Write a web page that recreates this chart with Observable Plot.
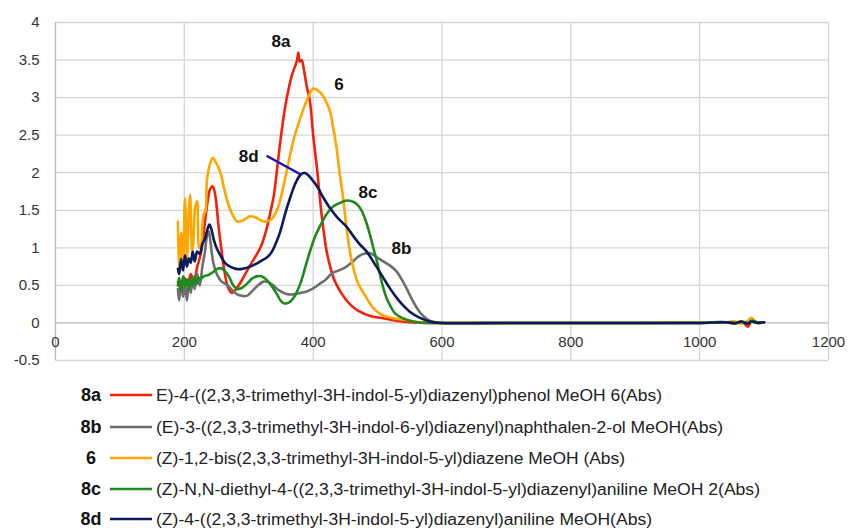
<!DOCTYPE html>
<html>
<head>
<meta charset="utf-8">
<script src="https://cdn.jsdelivr.net/npm/d3@7"></script>
<script src="https://cdn.jsdelivr.net/npm/@observablehq/plot@0.6"></script>
<style>
  body { margin: 0; background: #fff; }
  #chart svg { display: block; }
</style>
</head>
<body>
<div id="chart"></div>
<script>
// ---- data ----
const xTicks = [0, 200, 400, 600, 800, 1000, 1200];
const yTicks = [-0.5, 0, 0.5, 1, 1.5, 2, 2.5, 3, 3.5, 4];

const tailWl = [600, 700, 800, 900, 1000, 1040, 1055, 1065, 1075, 1080, 1090, 1100];

const wl8a  = [190,195,200,205,210,215,220,225,230,235,240,244,248,253,258,263,268,274,282,290,297,308,318,326,333,339,344,351,357,362,367,372,375,377,379,382,386,390,395,400,406,413,421,428,434,445,457,470,490,510,530,550,580];
const abs8a = [0.55,0.45,0.6,0.5,0.65,0.55,0.75,0.9,1.2,1.55,1.78,1.82,1.7,1.3,0.95,0.65,0.47,0.40,0.47,0.58,0.69,0.85,1.0,1.2,1.45,1.7,2.05,2.55,2.9,3.12,3.3,3.42,3.5,3.6,3.48,3.5,3.35,3.15,2.95,2.5,2.05,1.45,0.95,0.7,0.55,0.38,0.25,0.16,0.09,0.06,0.03,0.01,0.0];
const tail8a = [0,0,0,0,0.005,0.01,-0.01,0.02,-0.05,0.02,0.0,0.01];

const wl8b  = [190,192,195,198,201,204,207,210,213,216,220,224,228,232,235,238,241,245,251,258,266,274,282,290,297,305,314,323,331,338,346,357,370,380,390,400,410,420,429,440,450,458,467,475,488,498,509,520,530,538,545,553,561,570,581,595];
const abs8b = [0.45,0.3,0.55,0.35,0.5,0.3,0.55,0.4,0.6,0.45,0.65,0.5,0.75,0.95,1.15,1.22,1.05,0.8,0.64,0.55,0.51,0.44,0.38,0.36,0.36,0.42,0.5,0.55,0.54,0.5,0.44,0.39,0.38,0.4,0.42,0.46,0.52,0.58,0.66,0.7,0.74,0.79,0.86,0.91,0.93,0.88,0.82,0.76,0.68,0.57,0.46,0.32,0.2,0.1,0.03,0.0];
const tail8b = [0,0,0,0,0,0.01,0.0,0.01,-0.01,0.02,0.0,0.01];

const wl6  = [190,192,195,198,201,204,207,209,212,214,217,220,223,225,228,230,233,235,240,244,250,256,262,269,276,282,290,302,312,320,328,335,341,346,352,357,362,370,377,385,393,400,406,413,420,426,431,436,441,446,452,458,464,470,481,493,506,520,543,565,590];
const abs6 = [1.35,0.7,1.2,0.8,1.66,0.86,1.5,1.71,0.95,1.09,1.55,1.62,1.0,1.0,1.3,1.44,1.5,1.89,2.12,2.2,2.12,2.0,1.78,1.56,1.42,1.35,1.36,1.42,1.4,1.36,1.35,1.38,1.45,1.55,1.75,1.95,2.15,2.45,2.65,2.85,3.02,3.12,3.1,3.05,2.95,2.82,2.6,2.35,2.0,1.7,1.25,0.9,0.68,0.52,0.36,0.2,0.11,0.07,0.04,0.01,0.0];
const tail6 = [0,0,0,0,0.005,0.01,0.02,-0.01,0.03,0.07,0.0,0.01];

const wl8c  = [190,192,195,198,201,204,207,210,213,216,219,222,225,230,238,245,251,256,262,269,276,282,290,298,305,312,320,327,335,344,350,355,362,370,380,388,395,403,410,421,431,442,452,460,468,475,482,488,494,499,504,509,514,519,528,540,555,575];
const abs8c = [0.5,0.6,0.42,0.62,0.48,0.58,0.45,0.6,0.5,0.62,0.52,0.6,0.58,0.62,0.64,0.68,0.72,0.73,0.7,0.62,0.5,0.45,0.47,0.53,0.59,0.62,0.62,0.58,0.5,0.38,0.29,0.26,0.27,0.34,0.52,0.75,0.95,1.15,1.28,1.45,1.55,1.6,1.63,1.62,1.58,1.5,1.35,1.18,0.98,0.82,0.63,0.46,0.33,0.24,0.12,0.06,0.02,0.0];
const tail8c = [0,0,0,0,0,0.01,-0.01,0.02,0.0,0.03,0.01,0.01];

const wl8d  = [190,192,195,198,201,204,207,210,213,216,220,224,228,232,236,239,242,246,251,256,263,271,280,290,302,312,320,328,336,343,349,356,364,372,380,386,392,399,406,415,426,438,452,462,472,483,496,509,520,530,540,550,565,581];
const abs8d = [0.72,0.65,0.85,0.7,0.9,0.75,0.86,0.8,0.95,0.82,0.95,0.92,1.05,1.12,1.25,1.31,1.25,1.1,0.98,0.9,0.8,0.75,0.72,0.72,0.75,0.79,0.83,0.87,0.95,1.08,1.22,1.44,1.66,1.85,1.97,2.0,1.97,1.9,1.82,1.68,1.53,1.4,1.28,1.16,1.05,0.95,0.78,0.6,0.45,0.33,0.23,0.15,0.07,0.02];
const tail8d = [0,0,0,0,0,0.01,0.0,0.015,-0.01,0.02,0.0,0.01];

const seriesKeys   = ["8a", "8b", "6", "8c", "8d"];
const seriesNames  = [
  "E)-4-((2,3,3-trimethyl-3H-indol-5-yl)diazenyl)phenol MeOH 6(Abs)",
  "(E)-3-((2,3,3-trimethyl-3H-indol-6-yl)diazenyl)naphthalen-2-ol MeOH(Abs)",
  "(Z)-1,2-bis(2,3,3-trimethyl-3H-indol-5-yl)diazene MeOH (Abs)",
  "(Z)-N,N-diethyl-4-((2,3,3-trimethyl-3H-indol-5-yl)diazenyl)aniline MeOH 2(Abs)",
  "(Z)-4-((2,3,3-trimethyl-3H-indol-5-yl)diazenyl)aniline MeOH(Abs)"
];
const seriesColors = ["#f5200a", "#6e6e6e", "#ffa600", "#1f8a1c", "#0b1a5c"];

// annotation labels
const annoText = ["8a", "6", "8d", "8c", "8b"];
const annoX    = [350, 440, 300, 485, 537];
const annoY    = [3.74, 3.17, 2.22, 1.73, 0.99];
// leader line for 8d
const leadX = [329, 380];
const leadY = [2.22, 1.98];

// ---- build tables ----
const wls   = [wl8a, wl8b, wl6, wl8c, wl8d];
const abss  = [abs8a, abs8b, abs6, abs8c, abs8d];
const tails = [tail8a, tail8b, tail6, tail8c, tail8d];
const tables = seriesKeys.map((k, i) => {
  const rows = wls[i].map((w, j) => ({wl: w, abs: abss[i][j]}));
  tailWl.forEach((w, j) => rows.push({wl: w, abs: tails[i][j]}));
  return rows;
});
const annos = annoText.map((t, i) => ({t, x: annoX[i], y: annoY[i]}));
const lead = leadX.map((x, i) => ({x, y: leadY[i]}));

const FONT = "'Liberation Sans', Arial, sans-serif";
const CHART_H = 372;

const chart = Plot.plot({
  width: 849,
  height: CHART_H,
  marginLeft: 55,
  marginRight: 21,
  marginTop: 22,
  marginBottom: 12,
  style: {fontFamily: FONT, fontSize: "15px", color: "#333", background: "#fff", overflow: "visible"},
  x: {domain: [0, 1200]},
  y: {domain: [-0.5, 4]},
  marks: [
    Plot.gridX(xTicks.filter(d => d !== 0), {stroke: "#d6d6d6", strokeOpacity: 1, strokeWidth: 1.3}),
    Plot.gridY(yTicks.filter(d => d !== 0), {stroke: "#d6d6d6", strokeOpacity: 1, strokeWidth: 1.3}),
    Plot.ruleX([0], {stroke: "#b8b8b8", strokeWidth: 1.3}),
    Plot.ruleY([0], {stroke: "#b8b8b8", strokeWidth: 1.3}),
    Plot.axisY(yTicks, {tickSize: 0, tickPadding: 16, tickFormat: d => String(d), fontSize: 15, fill: "#333"}),
    Plot.axisX([], {}),
    Plot.text(xTicks, {x: d => d, y: 0, dy: 19, text: d => String(d), fontSize: 15, fill: "#333"}),
    ...tables.map((rows, i) => Plot.line(rows, {
      x: "wl", y: "abs", stroke: seriesColors[i], strokeWidth: 2.6, curve: "catmull-rom"
    })),
    Plot.line(lead, {x: "x", y: "y", stroke: "#1010b8", strokeWidth: 2.4}),
    Plot.text(annos, {x: "x", y: "y", text: "t", fontWeight: "bold", fontSize: 17, fill: "#111"})
  ]
});
document.getElementById("chart").appendChild(chart);

// ---- legend below the chart ----
const legendRowsY = [395, 427, 458, 489, 519].map(y => y - CHART_H);
const legendWidths = [506, 567, 469, 604, 496];
const leg = d3.select("body").append("svg")
  .attr("width", 849).attr("height", 530 - CHART_H)
  .style("display", "block")
  .style("font-family", FONT);
seriesKeys.forEach((k, i) => {
  const g = leg.append("g").attr("transform", `translate(0,${legendRowsY[i]})`);
  g.append("text").attr("x", 91).attr("y", 0).attr("dy", "0.35em")
    .attr("text-anchor", "middle")
    .attr("font-weight", "bold").attr("font-size", 18).attr("fill", "#111").text(k);
  g.append("line").attr("x1", 110).attr("x2", 152).attr("y1", 0).attr("y2", 0)
    .attr("stroke", seriesColors[i]).attr("stroke-width", 2.6);
  g.append("text").attr("x", 156).attr("y", 0).attr("dy", "0.35em")
    .attr("font-size", 16).attr("fill", "#222")
    .attr("textLength", legendWidths[i]).attr("lengthAdjust", "spacingAndGlyphs")
    .text(seriesNames[i]);
});
</script>
</body>
</html>
